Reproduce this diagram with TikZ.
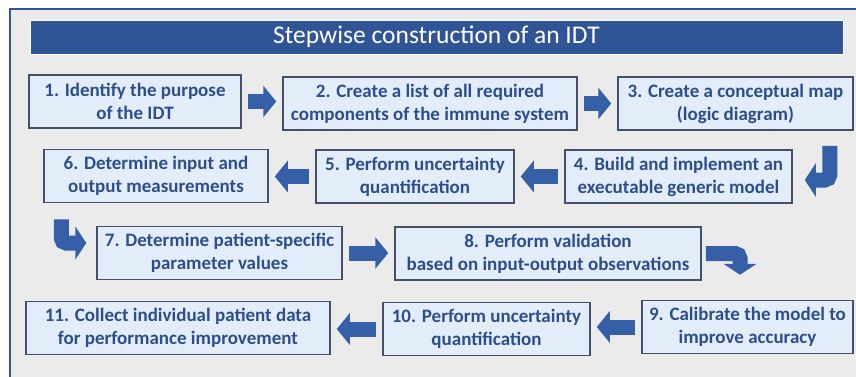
\documentclass[tikz,border=0pt]{standalone}
\usepackage{fontspec}
\setmainfont{Carlito}
\usetikzlibrary{arrows.meta}
\definecolor{frameblue}{HTML}{2F5597}
\definecolor{boxfill}{HTML}{E3EDFA}
\definecolor{boxline}{HTML}{44506A}
\definecolor{textblue}{HTML}{2C4E8E}
\definecolor{arrowblue}{HTML}{3560A8}
\definecolor{panel}{HTML}{EBEBEB}

\begin{document}
\begin{tikzpicture}[x=1pt, y=-1pt,
	stepbox/.style={draw=boxline, line width=1.5pt, fill=boxfill, inner sep=0pt,
		minimum height=53pt, align=center, text=textblue,
		font=\fontsize{19}{23}\selectfont\bfseries},
	fat/.style={draw=arrowblue, line width=15pt,
		-{Triangle[length=13pt,width=31pt]}, shorten >=6pt, shorten <=6pt},
	bent/.style={fat, rounded corners=5pt, shorten >=0pt, shorten <=0pt,
		-{Triangle[length=11pt,width=33pt]}}]
	\useasboundingbox (0,0) rectangle (856,377);
	\draw[frameblue, line width=1.2pt, fill=panel] (10,9) rectangle (880,400);
	\node[fill=frameblue, draw=white, minimum width=813pt, minimum height=34pt,
		text=white, font=\fontsize{25.5}{28}\selectfont] (title) at (436.5,37) {Stepwise construction of an IDT};
	% first row
	\node[stepbox, minimum width=212pt] (b1) at (135,101.5) {1. Identify the purpose\\of the IDT};
	\node[stepbox, minimum width=294pt] (b2) at (430,103.5) {2. Create a list of all required\\components of the immune system};
	\node[stepbox, minimum width=235pt] (b3) at (735.5,103.5) {3. Create a conceptual map\\(logic diagram)};
	% second row
	\node[stepbox, minimum width=227pt] (b4) at (678.5,176.5) {4. Build and implement an\\executable generic model};
	\node[stepbox, minimum width=198pt] (b5) at (415,176.5) {5. Perform uncertainty\\quantification};
	\node[stepbox, minimum width=224pt] (b6) at (156,176) {6. Determine input and\\output measurements};
	% third row
	\node[stepbox, minimum width=245pt] (b7) at (219.5,253) {7. Determine patient-specific\\parameter values};
	\node[stepbox, minimum width=306pt] (b8) at (548,253.5) {8. Perform validation\\based on input-output observations};
	% fourth row
	\node[stepbox, minimum width=211pt] (b9) at (747.5,327) {9. Calibrate the model to\\improve accuracy};
	\node[stepbox, minimum width=207pt] (b10) at (486.5,329) {10. Perform uncertainty\\quantification};
	\node[stepbox, minimum width=304pt] (b11) at (178,328) {11. Collect individual patient data\\for performance improvement};
	% arrows
	\draw[fat] (b1.east) -- (b1.east -| b2.west);
	\draw[fat] (b2.east) -- (b2.east -| b3.west);
	\draw[bent] ([xshift=-24pt,yshift=-15pt]b3.south east) |- ([xshift=12pt,yshift=-3.5pt]b4.east);
	\draw[fat] (b4.west) -- (b4.west -| b5.east);
	\draw[fat] (b5.west) -- (b5.west -| b6.east);
	\draw[bent] ([xshift=18pt,yshift=-16pt]b6.south west) |- ([xshift=-10pt,yshift=10pt]b7.west);
	\draw[fat] (b7.east) -- (b7.east -| b8.west);
	\draw[bent] ([xshift=4pt]b8.east) -| ([xshift=-7.5pt,yshift=25pt]b9.north);
	\draw[fat] (b9.west) -- (b9.west -| b10.east);
	\draw[fat] (b10.west) -- (b10.west -| b11.east);
\end{tikzpicture}
\end{document}
